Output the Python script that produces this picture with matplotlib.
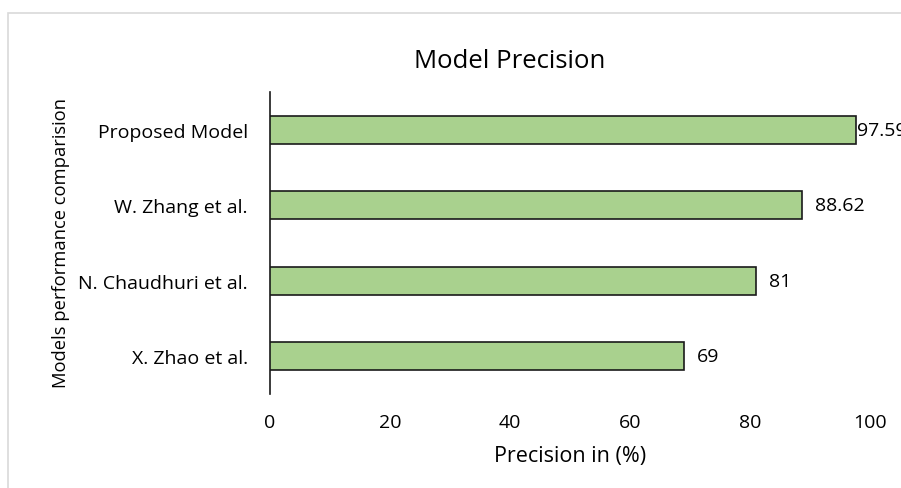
import matplotlib
matplotlib.use("Agg")
import matplotlib.pyplot as plt
from matplotlib.patches import Rectangle

categories = ["Proposed Model", "W. Zhang et al.", "N. Chaudhuri et al.", "X. Zhao et al."]
values = [97.59, 88.62, 81, 69]
value_labels = ["97.59", "88.62", "81", "69"]
xticks = [0, 20, 40, 60, 80, 100]

W, H = 901, 489
fig = plt.figure(figsize=(W / 100, H / 100), dpi=100)
plt.rcParams['font.family'] = ['Open Sans', 'DejaVu Sans']

ax = fig.add_axes([270 / W, (H - 395) / H, 600 / W, 302 / H])
ypos = list(range(len(categories)))
ax.barh(ypos, values, height=0.37, color="#A9D18E", edgecolor="#1a1a1a", linewidth=1.2, zorder=3)
ax.set_ylim(len(categories) - 0.5, -0.5)
ax.set_xlim(0, 100)
ax.set_yticks(ypos)
ax.set_yticklabels(categories, fontsize=14)
ax.set_xticks(xticks)
ax.set_xticklabels([str(t) for t in xticks], fontsize=14)
ax.tick_params(axis='y', length=0, pad=16)
ax.tick_params(axis='x', length=0, pad=14)
for s in ["top", "right", "bottom"]:
    ax.spines[s].set_visible(False)
ax.spines["left"].set_linewidth(1.2)
ax.spines["left"].set_color("#1a1a1a")

for i, (v, lab) in enumerate(zip(values, value_labels)):
    off = 1 if i == 0 else 13
    ax.annotate(lab, (v, i), xytext=(off, 0), textcoords="offset pixels",
                ha="left", va="center", fontsize=14, annotation_clip=False)

fig.text(510 / W, 1 - 62 / H, "Model Precision", ha="center", va="center", fontsize=18.5)
fig.text(570 / W, 1 - 457 / H, "Precision in (%)", ha="center", va="center", fontsize=15.5)
fig.text(61 / W, 1 - 243 / H, "Models performance comparision", ha="center", va="center",
         rotation=90, fontsize=13.2)

# chart border
fig.patches.append(Rectangle((8 / W, -0.01), 1.0, 1 - 14 / H + 0.01, transform=fig.transFigure,
                             fill=False, edgecolor="#d9d9d9", linewidth=1.2))

fig.savefig("out.png", dpi=100)
